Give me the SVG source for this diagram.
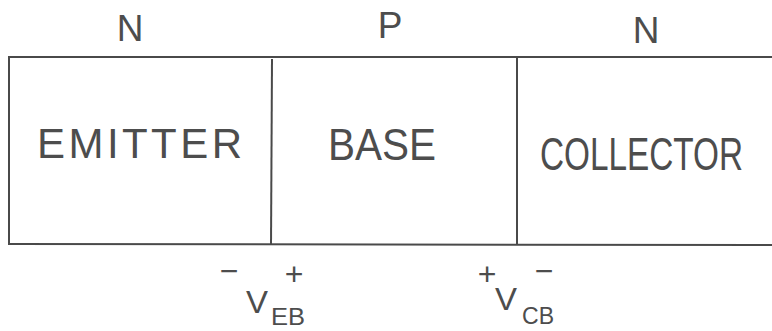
<svg xmlns="http://www.w3.org/2000/svg" width="772" height="331" viewBox="0 0 772 331">
<style>
.ln{stroke:#4a4a4a;stroke-width:2;fill:none}
.t{font-family:"Liberation Sans",Arial,sans-serif;fill:#4d4d4d;font-weight:normal}
.big{font-size:37px}
.sg{font-size:32px}
.v{font-size:32px}
.sub{font-size:24px}
</style>
<rect width="772" height="331" fill="#fff"/>
<g id="connectors">
<line class="ln" x1="8" y1="57" x2="772" y2="57"/>
<line class="ln" x1="8" y1="244" x2="772" y2="245"/>
<line class="ln" x1="9" y1="57" x2="9" y2="245"/>
<line class="ln" x1="272" y1="59" x2="271" y2="245"/>
<line class="ln" x1="517" y1="58" x2="517" y2="244"/>
</g>
<g id="type-labels">
<text class="t big" x="130" y="41" text-anchor="middle">N</text>
<text class="t big" x="390" y="38" text-anchor="middle">P</text>
<text class="t big" x="646" y="43" text-anchor="middle">N</text>
</g>
<g id="emitter">
<text class="t" font-size="42" x="37" y="158" textLength="205" lengthAdjust="spacing">EMITTER</text>
</g>
<g id="base">
<text class="t" font-size="44" x="328" y="160" textLength="108" lengthAdjust="spacingAndGlyphs">BASE</text>
</g>
<g id="collector">
<text class="t" font-size="37" transform="translate(540,170) scale(1,1.25)" x="0" y="0" textLength="203" lengthAdjust="spacingAndGlyphs">COLLECTOR</text>
</g>
<g id="veb">
<text class="t sg" x="229" y="282" text-anchor="middle">−</text>
<text class="t sg" x="294" y="285" text-anchor="middle">+</text>
<text class="t v" x="246" y="313" textLength="22" lengthAdjust="spacingAndGlyphs">V</text>
<text class="t sub" x="271" y="325" textLength="34" lengthAdjust="spacingAndGlyphs">EB</text>
</g>
<g id="vcb">
<text class="t sg" x="487" y="285" text-anchor="middle">+</text>
<text class="t sg" x="544" y="282" text-anchor="middle">−</text>
<text class="t v" x="495" y="310" textLength="22" lengthAdjust="spacingAndGlyphs">V</text>
<text class="t sub" x="522" y="324" textLength="32" lengthAdjust="spacingAndGlyphs">CB</text>
</g>
</svg>
